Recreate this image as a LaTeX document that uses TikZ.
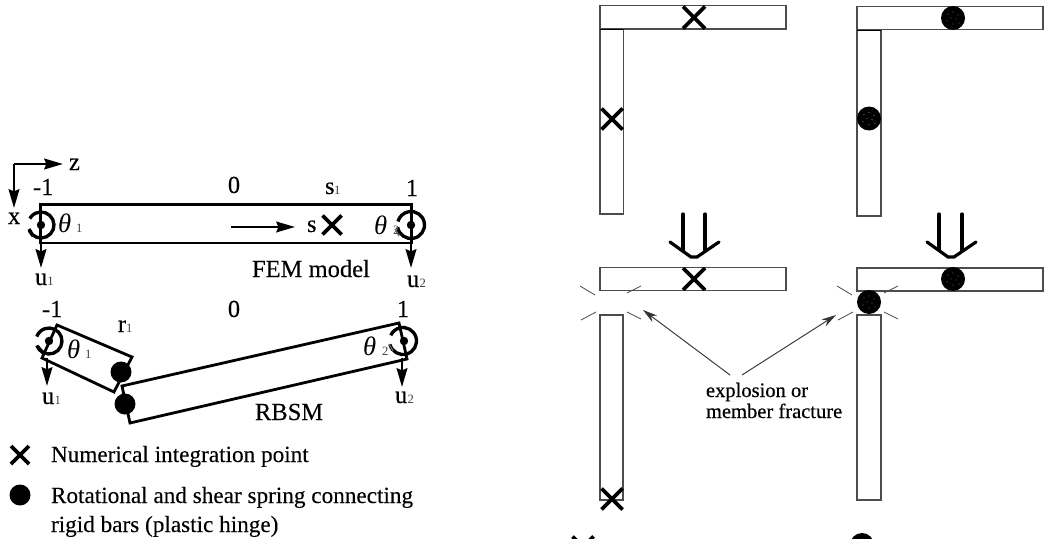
\documentclass[tikz,border=0pt]{standalone}
\usepackage{fontspec}
\setmainfont{Liberation Serif}
\newfontfamily\notefont[FakeBold=0.5]{Liberation Serif}
\newfontfamily\mainbold[FakeBold=0.15]{Liberation Serif}
\usetikzlibrary{arrows.meta}
\newcommand{\fa}{\mainbold\fontsize{18.4pt}{22pt}\selectfont}
\newcommand{\fb}{\mainbold\fontsize{17.4pt}{24pt}\selectfont}
\newcommand{\fc}{\notefont\fontsize{15.4pt}{20pt}\selectfont}
\newcommand{\fs}{\fontsize{9.5pt}{11pt}\selectfont}
\newcommand{\ft}{\fontsize{20pt}{22pt}\selectfont\itshape}
\tikzset{
  lbl/.style={anchor=base west,inner sep=0pt,outer sep=0pt,text=black,font=\fa},
  lblc/.style={anchor=base,inner sep=0pt,outer sep=0pt,text=black,font=\fa},
  sub/.style={anchor=base west,inner sep=0pt,outer sep=0pt,text=black!75,font=\fs},
  theta/.style={lbl,font=\ft},
  legend/.style={lbl,font=\fb},
  note/.style={lbl,font=\fc,align=left},
  bar/.style={draw=black,line width=2.1pt,line join=miter},
  thinbar/.style={draw=black!70,line width=1pt,fill=white},
  cross/.style={line width=2.7pt,draw=black},
  shaft/.style={line width=2pt,-{Stealth[length=14pt,width=8pt,inset=1.5pt]}},
  spin/.style={line width=2.5pt,draw=black},
  crack/.style={line width=.6pt,draw=black!70},
  pointer/.style={line width=.7pt,draw=black!80,-{Stealth[length=11pt,width=6pt]}},
  bigarrow/.style={line width=2.4pt,draw=black,line cap=round},
}
\newcommand{\crossat}[3]{%
  \draw[cross] (#1-#3,#2-#3) -- (#1+#3,#2+#3) (#1-#3,#2+#3) -- (#1+#3,#2-#3);}
\newcommand{\hinge}[3]{%
  \fill[black] (#1,#2) circle[radius=#3];
  \foreach \dx/\dy in {-5/-4,0/-6,5/-3,-2/0,3/1,-6/3,0/6,6/5}
    \fill[white] (#1+\dx,#2+\dy) circle[radius=.35];}
\begin{document}
\begin{tikzpicture}[x=0.75pt,y=-0.75pt]
\useasboundingbox (0,0) rectangle (1047,539);
\clip (0,0) rectangle (1047,539);
\fill[white] (0,0) rectangle (1047,539);

% axes
\coordinate (o) at (14,164);
\coordinate (zend) at (63,164);
\coordinate (xend) at (14,208);
\draw[shaft] (o) -- (zend);
\draw[shaft] (o) -- (xend);
\node[lbl] (zl) at (69,170) {z};
\node[lbl] (xl) at (8,224) {x};

% FEM bar
\draw[bar] (40,204.7) rectangle (412,243);
\coordinate (n1) at (41,205);
\coordinate (u1e) at (41,268);
\coordinate (n2) at (411,205);
\coordinate (u2e) at (411,268);
\draw[shaft] (n1) -- (u1e);
\draw[shaft] (n2) -- (u2e);
\fill (41,225) circle[radius=4.2];
\fill (411,225) circle[radius=4.2];
\draw[spin] (41,225) ++(155:13) arc[start angle=155,end angle=-150,radius=13];
\draw[spin] (29,229) -- (33,236);
\draw[spin] (411,225) ++(170:13.5) arc[start angle=170,end angle=-165,radius=13.5];
\draw[line width=.9pt,black!60] (395,229) -- (399,236);
\coordinate (s0) at (231,227);
\coordinate (s1) at (295,227);
\draw[shaft,line width=1.7pt] (s0) -- (s1);
\crossat{332}{225}{9.5}

\node[lbl] (m1) at (33,195) {-1};
\node[lblc] (z0) at (234,193) {0};
\node[lbl] (sa) at (325,194) {s};
\node[sub] (sas) at (334,194) {1};
\node[lblc] (p1) at (412,196) {1};
\node[theta] (t1) at (58,232) {θ};
\node[sub] (t1s) at (76,232) {1};
\node[theta] (t2) at (374,234) {θ};
\node[sub] (t2s) at (393,234) {2};
\node[lbl] (sl) at (307,232) {s};
\node[lbl] (fem) at (252,277) {FEM model};
\node[lbl] (u1) at (35,285) {u};
\node[sub] (u1s) at (47.5,285) {1};
\node[lbl] (u2) at (407,287) {u};
\node[sub] (u2s) at (419.5,287) {2};

% RBSM bars
\draw[bar] (57,325) -- (132,357) -- (114,392) -- (42,358) -- cycle;
\draw[bar] (122,386) -- (399,323) -- (407,359) -- (130,423) -- cycle;
\fill (121,372) circle[radius=10.5];
\fill (125,404) circle[radius=10.5];
\coordinate (r1) at (47,358);
\coordinate (r1e) at (47,386);
\coordinate (r2) at (402,358);
\coordinate (r2e) at (402,387);
\draw[shaft] (r1) -- (r1e);
\draw[shaft] (r2) -- (r2e);
\fill (49,341) circle[radius=4.2];
\fill (404,341) circle[radius=4.2];
\draw[spin] (49,341) ++(160:13) arc[start angle=160,end angle=-160,radius=13];
\draw[spin] (38,347) -- (44,354);
\draw[spin] (403,341) ++(165:13.5) arc[start angle=165,end angle=-155,radius=13.5];
\draw[line width=.9pt,black!60] (389,344) -- (393,351);

\node[lbl] (m2) at (42,317) {-1};
\node[lblc] (z2) at (234,317) {0};
\node[lblc] (p2) at (403,317) {1};
\node[lbl] (ra) at (118,332) {r};
\node[sub] (ras) at (126,332) {1};
\node[theta] (t3) at (67,358) {θ};
\node[sub] (t3s) at (85,358) {1};
\node[theta] (t4) at (363,355) {θ};
\node[sub] (t4s) at (382,355) {2};
\node[lbl] (u3) at (42,404) {u};
\node[sub] (u3s) at (54.5,404) {1};
\node[lbl] (u4) at (395,403) {u};
\node[sub] (u4s) at (407.5,403) {2};
\node[lbl] (rbsm) at (255,420) {RBSM};

% legend
\crossat{20}{455}{9}
\fill (20,495) circle[radius=10.5];
\node[legend] (l1) at (51,462) {Numerical integration point};
\node[legend] (l2) at (51,503) {Rotational and shear spring connecting};
\node[legend] (l3) at (51,532) {rigid bars (plastic hinge)};

% right, top row
\draw[thinbar] (600,5.7) rectangle (786,29);
\draw[thinbar] (600,29.5) rectangle (623.5,214);
\draw[line width=1.2pt] (600,29.5) -- (623.5,29.5);
\begin{scope}
\clip (600,5.7) rectangle (786,29);
\crossat{694}{17.5}{11}
\end{scope}
\crossat{612}{119}{10.5}
\draw[thinbar] (857,6.5) rectangle (1043,29.5);
\draw[thinbar] (857,30.5) rectangle (881,216);
\draw[line width=1.2pt] (857,30.5) -- (881,30.5);
\hinge{953}{18}{12}
\hinge{869}{118.5}{12}

% big arrows
\draw[bigarrow] (683,214) -- (683,250) (705,214) -- (705,250);
\draw[bigarrow] (670,242) -- (691,257) -- (697,257) -- (719,242);
\draw[bigarrow] (939,214) -- (939,250) (962,214) -- (962,250);
\draw[bigarrow] (927,242) -- (948,257) -- (954,257) -- (976,242);

% right, middle row
\draw[thinbar] (600,267.7) rectangle (786,290.7);
\draw[thinbar] (600,315) rectangle (623,500);
\begin{scope}
\clip (600,267.7) rectangle (786,290.7);
\crossat{694}{279}{11}
\end{scope}
\crossat{612}{499}{10.5}
\draw[thinbar] (857,268) rectangle (1043,291);
\draw[thinbar] (857,315) rectangle (881,500);
\hinge{953}{279}{12}
\hinge{869}{302}{12}

% cracks
\foreach \o in {0,257}{
  \draw[crack] (580+\o,286) -- (595+\o,295);
  \draw[crack] (627+\o,293) -- (641+\o,286);
  \draw[crack] (581+\o,320) -- (596+\o,312);
  \draw[crack] (627+\o,312) -- (641+\o,319);
}

% note and pointers
\node[note] (n3) at (706,397) {explosion or};
\node[note] (n4) at (706,418) {member fracture};
\coordinate (pa) at (730,375);
\coordinate (pae) at (643,310);
\coordinate (pb) at (742,375);
\coordinate (pbe) at (836,315);
\draw[pointer] (pa) -- (pae);
\draw[pointer] (pb) -- (pbe);

% cropped markers
\crossat{583}{547}{10.5}
\hinge{862}{545}{12}
\end{tikzpicture}
\end{document}
